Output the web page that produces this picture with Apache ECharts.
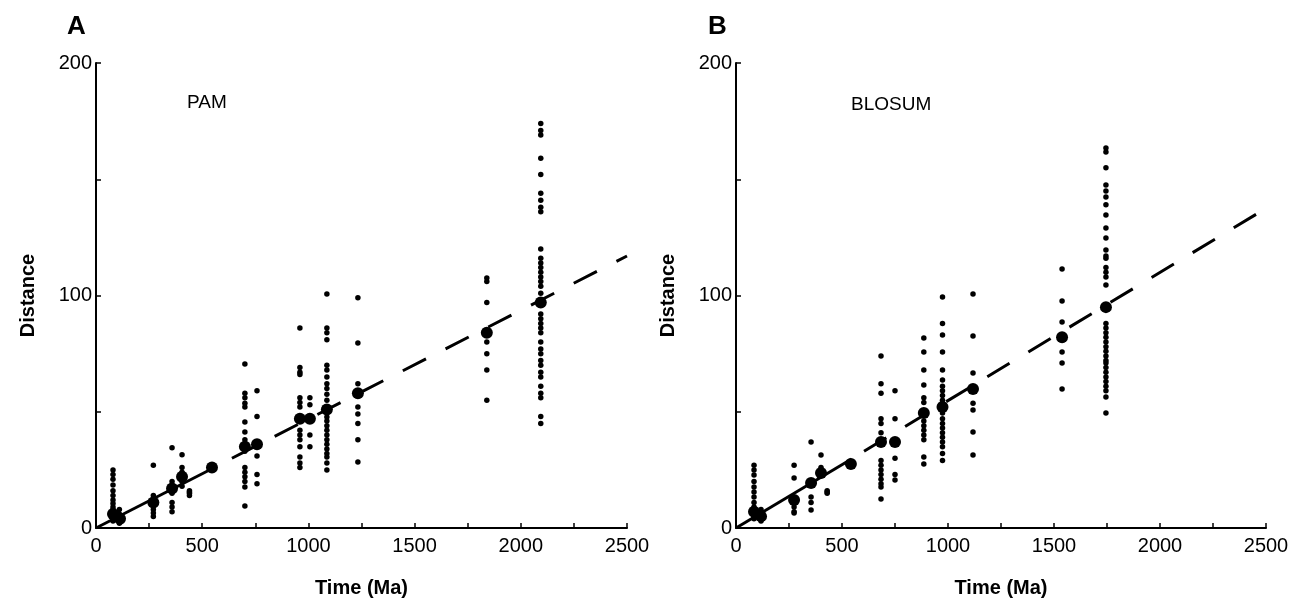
<!DOCTYPE html>
<html>
<head>
<meta charset="utf-8">
<script src="https://cdn.jsdelivr.net/npm/echarts@6/dist/echarts.min.js"></script>
<style>html,body{margin:0;padding:0;background:#fff}#c{width:1297px;height:609px}</style>
</head>
<body>
<div id="c"></div>
<script>
// ---------- Panel A: PAM ----------
const pamColumnTimes = [80, 110, 270, 358, 405, 440, 701, 758, 960, 1007, 1087, 1233, 1840, 2094];
const pamColumnValues = [
  [25, 23, 21, 18.5, 16, 14, 12, 10.5, 9, 8, 7, 5, 4, 3],
  [8, 6, 4, 3, 2],
  [27, 14, 12.5, 11, 9.5, 8, 6.5, 5],
  [34.5, 20, 15, 11, 9, 7],
  [31.5, 26, 24, 20, 18],
  [14, 15.5, 16, 15],
  [70.5, 58, 56, 53.7, 52, 45.6, 41.3, 38, 36, 33, 26, 24, 22, 20, 17.6, 9.5],
  [59, 48, 31, 23, 19],
  [86, 69, 67, 66, 56, 54, 52, 42, 40, 38, 35, 30.5, 28, 26],
  [56, 53, 40, 35],
  [100.6, 86, 84, 81, 70, 68, 65, 62, 60, 57.5, 55, 47.7, 46, 44, 42, 40, 38, 36, 34, 32, 30.5, 28, 25],
  [99, 79.6, 62, 52, 49, 45, 38, 28.4],
  [107.5, 106, 97, 80, 75, 68, 55],
  [174, 171, 169, 159, 152, 144, 141, 138, 136, 120, 116, 114, 112, 110, 108, 106, 104, 101, 92, 90, 88, 86, 84, 80, 77, 75, 72, 70, 67, 65, 61, 58, 56, 48, 45]
];
const pamMeanTimes = [80, 113, 270, 358, 405, 546, 701, 758, 960, 1007, 1087, 1233, 1840, 2094];
const pamMeanValues = [6, 4, 11, 17, 22, 26, 35, 36, 47, 47, 51, 58, 84, 97];
const pamFitSolid = [[0, 0], [546, 25.5]];
const pamFitDashed = [[640, 30], [2500, 117]];

// ---------- Panel B: BLOSUM ----------
const bloColumnTimes = [85, 118, 274, 354, 401, 430, 684, 750, 886, 974, 1118, 1538, 1745];
const bloColumnValues = [
  [27, 25, 22.8, 20, 17.6, 15.5, 13.3, 11, 9, 5, 4],
  [8, 5, 3],
  [27, 21.5, 9, 7, 6.5],
  [37, 13.3, 11, 7.7],
  [31.4, 26],
  [15.5, 15, 16],
  [74, 62, 58, 47, 45, 41, 36, 29, 27, 25, 23, 21, 19, 17.6, 12.5],
  [59, 47, 30, 23, 20.6],
  [81.7, 75.7, 68, 61.5, 56, 54, 46, 44, 42, 40, 38, 30.5, 27.5],
  [99.4, 88, 83, 75.7, 68, 63.7, 61, 59, 57, 55, 49.5, 47, 45, 43, 41, 39, 37, 35, 32, 29],
  [100.6, 82.6, 66.7, 53.7, 50.7, 41.3, 31.4],
  [111.4, 97.6, 88.6, 75.7, 71, 59.8],
  [163.4, 161.7, 155, 147.5, 145, 142.4, 139, 134.6, 129, 124.7, 119.6, 117, 116, 112, 110, 108, 104.5, 88, 86, 84, 82, 80, 78, 76, 74, 72, 71, 69, 67, 65, 63, 61, 59, 56.3, 49.5]
];
const bloMeanTimes = [85, 118, 274, 354, 401, 542, 684, 750, 886, 974, 1118, 1538, 1745];
const bloMeanValues = [7, 5, 12, 19.4, 23.7, 27.5, 37, 37, 49.5, 52, 59.8, 82, 95];
const bloFitSolid = [[0, 0], [545, 29.7]];
const bloFitDashed = [[604, 33], [2500, 137.5]];

// ---------- Axis ticks ----------
const xTickLabels = [0, 500, 1000, 1500, 2000, 2500];
const yTickLabels = [0, 100, 200];

function pairs(times, values) {
  const out = [];
  times.forEach((t, i) => values[i].forEach(v => out.push([t, v])));
  return out;
}
function zip(ts, vs) { return ts.map((t, i) => [t, vs[i]]); }

const FONT = 'Liberation Sans, Arial, Helvetica, sans-serif';
const grids = [
  { left: 96, top: 63, width: 531, height: 465 },
  { left: 736, top: 63, width: 530, height: 465 }
];
function xAx(i) {
  return {
    gridIndex: i, type: 'value', min: 0, max: 2500, interval: 250,
    name: 'Time (Ma)', nameLocation: 'middle', nameGap: 50,
    nameTextStyle: { fontFamily: FONT, fontWeight: 'bold', fontSize: 20, color: '#000' },
    axisLine: { lineStyle: { color: '#000', width: 2 } },
    axisTick: { inside: true, length: 5, lineStyle: { color: '#000', width: 1.5 } },
    axisLabel: { fontFamily: FONT, fontSize: 20, color: '#000', margin: 8,
      formatter: v => xTickLabels.indexOf(v) >= 0 ? String(v) : '' },
    splitLine: { show: false }
  };
}
function yAx(i) {
  return {
    gridIndex: i, type: 'value', min: 0, max: 200, interval: 50,
    name: 'Distance', nameLocation: 'middle', nameGap: 58,
    nameTextStyle: { fontFamily: FONT, fontWeight: 'bold', fontSize: 20, color: '#000' },
    axisLine: { lineStyle: { color: '#000', width: 2 } },
    axisTick: { inside: true, length: 5, lineStyle: { color: '#000', width: 1.5 } },
    axisLabel: { fontFamily: FONT, fontSize: 20, color: '#000', margin: 4,
      formatter: v => yTickLabels.indexOf(v) >= 0 ? String(v) : '' },
    splitLine: { show: false }
  };
}
function panelSeries(i, colT, colV, mT, mV, solid, dashed) {
  return [
    { type: 'scatter', xAxisIndex: i, yAxisIndex: i, data: pairs(colT, colV),
      symbolSize: 5.5, itemStyle: { color: '#000', opacity: 1 }, silent: true, z: 3 },
    { type: 'scatter', xAxisIndex: i, yAxisIndex: i, data: zip(mT, mV),
      symbolSize: 12, itemStyle: { color: '#000', opacity: 1 }, silent: true, z: 4 },
    { type: 'line', xAxisIndex: i, yAxisIndex: i, data: solid, showSymbol: false,
      lineStyle: { color: '#000', width: 3 }, silent: true, z: 2 },
    { type: 'line', xAxisIndex: i, yAxisIndex: i, data: dashed, showSymbol: false,
      lineStyle: { color: '#000', width: 3, type: [26, 22] }, silent: true, z: 2 }
  ];
}

const chart = echarts.init(document.getElementById('c'));
chart.setOption({
  animation: false,
  backgroundColor: '#fff',
  grid: grids,
  xAxis: [xAx(0), xAx(1)],
  yAxis: [yAx(0), yAx(1)],
  graphic: [
    { type: 'text', left: 67, top: 14, style: { text: 'A', font: 'bold 26px ' + FONT, fill: '#000' } },
    { type: 'text', left: 708, top: 14, style: { text: 'B', font: 'bold 26px ' + FONT, fill: '#000' } },
    { type: 'text', left: 187, top: 93, style: { text: 'PAM', font: '19px ' + FONT, fill: '#000' } },
    { type: 'text', left: 851, top: 95, style: { text: 'BLOSUM', font: '19px ' + FONT, fill: '#000' } }
  ],
  series: [].concat(
    panelSeries(0, pamColumnTimes, pamColumnValues, pamMeanTimes, pamMeanValues, pamFitSolid, pamFitDashed),
    panelSeries(1, bloColumnTimes, bloColumnValues, bloMeanTimes, bloMeanValues, bloFitSolid, bloFitDashed)
  )
});
</script>
</body>
</html>
